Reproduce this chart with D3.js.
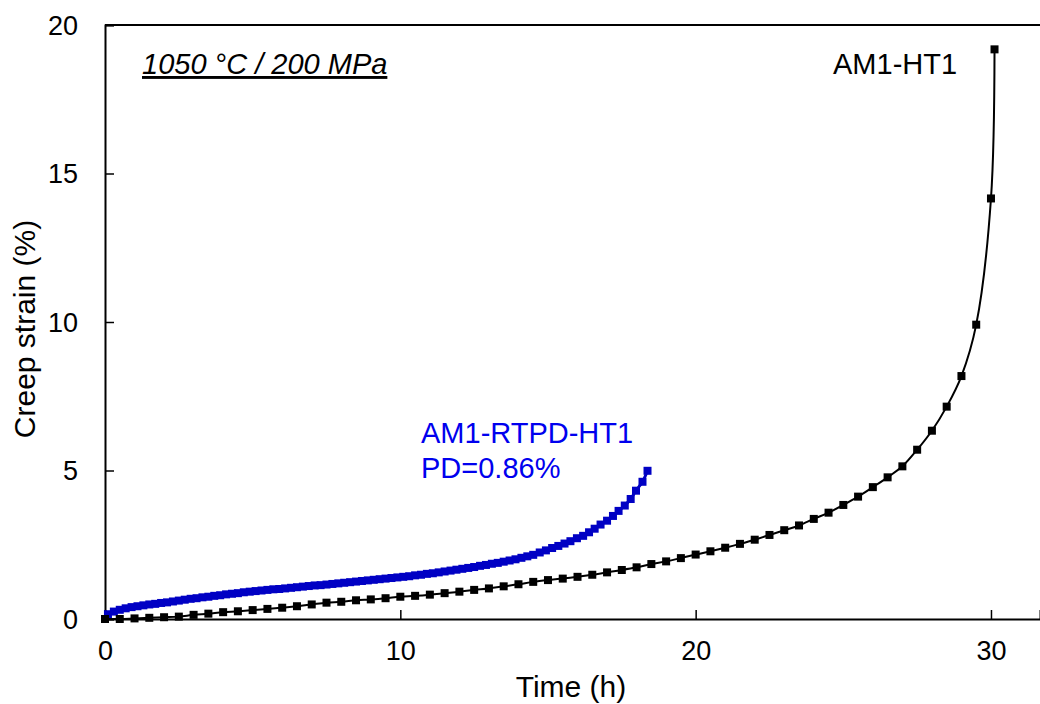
<!DOCTYPE html>
<html><head><meta charset="utf-8">
<script src="https://cdn.jsdelivr.net/npm/d3@7"></script>
<style>body{margin:0;background:#fff}svg{display:block}text{font-family:"Liberation Sans",Arial,sans-serif}</style>
</head><body><svg id="c" width="1040" height="704"></svg>
<script>
// AM1-HT1 (black)
const htTime = [0,0.5,1,1.5,2,2.5,3,3.5,4,4.5,5,5.5,6,6.5,7,7.5,8,8.5,9,9.5,10,10.5,11,11.5,12,12.5,13,13.5,14,14.5,15,15.5,16,16.5,17,17.5,18,18.5,19,19.5,20,20.5,21,21.5,22,22.5,23,23.5,24,24.5,25,25.5,26,26.5,27,27.5,28,28.5,29,29.5,30,30.12];
const htStrain = [0,0,0.02,0.04,0.06,0.08,0.14,0.18,0.23,0.26,0.30,0.34,0.38,0.43,0.49,0.55,0.58,0.63,0.66,0.70,0.75,0.78,0.82,0.87,0.92,0.98,1.03,1.10,1.17,1.25,1.31,1.36,1.42,1.49,1.57,1.65,1.74,1.85,1.94,2.05,2.17,2.28,2.40,2.53,2.67,2.83,2.99,3.15,3.37,3.58,3.84,4.12,4.44,4.77,5.14,5.70,6.34,7.15,8.18,9.91,14.16,19.18];
// AM1-RTPD-HT1 (blue)
const pdTime = [0,0.1,0.3,0.5,0.7,0.9,1.1,1.3,1.5,1.7,1.9,2.1,2.3,2.5,2.7,2.9,3.1,3.3,3.5,3.7,3.9,4.1,4.3,4.5,4.7,4.9,5.1,5.3,5.5,5.7,5.9,6.1,6.3,6.5,6.7,6.9,7.1,7.3,7.5,7.7,7.9,8.1,8.3,8.5,8.7,8.9,9.1,9.3,9.5,9.7,9.9,10.1,10.3,10.5,10.7,10.9,11.1,11.3,11.5,11.7,11.9,12.1,12.3,12.5,12.7,12.9,13.1,13.3,13.5,13.7,13.9,14.1,14.3,14.5,14.72,14.93,15.14,15.35,15.56,15.76,15.98,16.19,16.39,16.58,16.78,17.0,17.2,17.39,17.6,17.8,17.98,18.2,18.37];
const pdStrain = [0,0.16,0.25,0.31,0.36,0.40,0.43,0.46,0.49,0.51,0.54,0.56,0.59,0.62,0.65,0.68,0.70,0.73,0.75,0.78,0.80,0.83,0.85,0.87,0.90,0.92,0.94,0.96,0.98,1.00,1.01,1.03,1.05,1.07,1.09,1.11,1.13,1.14,1.16,1.18,1.20,1.22,1.24,1.26,1.28,1.30,1.32,1.34,1.36,1.38,1.40,1.42,1.44,1.47,1.49,1.52,1.54,1.57,1.60,1.63,1.66,1.69,1.72,1.75,1.79,1.82,1.86,1.89,1.93,1.97,2.01,2.06,2.11,2.16,2.24,2.31,2.39,2.46,2.54,2.62,2.72,2.80,2.92,3.04,3.18,3.31,3.47,3.64,3.82,4.04,4.32,4.62,4.99];
const xTicks = [0,10,20,30];
const yTicks = [0,5,10,15,20];
const labels = {title:"1050 °C / 200 MPa", ht:"AM1-HT1", pd1:"AM1-RTPD-HT1", pd2:"PD=0.86%", xAxis:"Time (h)", yAxis:"Creep strain (%)"};

const svg = d3.select("#c");
const x = d3.scaleLinear().domain([0,31.66]).range([105,1040]);
const y = d3.scaleLinear().domain([0,20]).range([619,25]);
const FS = 27, FA = 29, FT = 30;

// axes
const gx = svg.append("g").attr("transform","translate(0,619)")
  .call(d3.axisBottom(x).tickValues(xTicks).tickSize(-9).tickPadding(0).tickFormat(d3.format("d")));
gx.select(".domain").attr("stroke","#000").attr("stroke-width",2);
gx.selectAll(".tick line").attr("stroke","#000").attr("stroke-width",1.5);
gx.selectAll(".tick text").attr("font-size",FS).attr("fill","#000").attr("font-family","Liberation Sans, Arial, sans-serif").attr("dy",null).attr("y",41);

const gy = svg.append("g").attr("transform","translate(105,0)")
  .call(d3.axisLeft(y).tickValues(yTicks).tickSize(-9).tickPadding(0).tickFormat(d3.format("d")));
gy.select(".domain").attr("stroke","#000").attr("stroke-width",2);
gy.selectAll(".tick line").attr("stroke","#000").attr("stroke-width",1.5);
gy.selectAll(".tick text").attr("font-size",FS).attr("fill","#000").attr("font-family","Liberation Sans, Arial, sans-serif").attr("x",-27).attr("dy","0.35em");

// top border
svg.append("line").attr("x1",x(0)).attr("x2",x(31.66)).attr("y1",y(20)).attr("y2",y(20)).attr("stroke","#000").attr("stroke-width",2);

// axis titles
svg.append("text").attr("x",571).attr("y",697).attr("text-anchor","middle").attr("font-size",FT).text(labels.xAxis);
svg.append("text").attr("transform","translate(35,329) rotate(-90)").attr("text-anchor","middle").attr("font-size",FT).text(labels.yAxis);

// series
const ht = htTime.map((t,i)=>({t, v:htStrain[i]}));
const pd = pdTime.map((t,i)=>({t, v:pdStrain[i]}));
const line = d3.line().x(d=>x(d.t)).y(d=>y(d.v)).curve(d3.curveCatmullRom.alpha(0.5));

svg.append("path").datum(pd).attr("d",line).attr("fill","none").attr("stroke","#0000c4").attr("stroke-width",3);
svg.append("g").selectAll("rect").data(pd).join("rect")
  .attr("x",d=>x(d.t)-4).attr("y",d=>y(d.v)-4).attr("width",8).attr("height",8).attr("fill","#0000c4");

svg.append("path").datum(ht).attr("d",line).attr("fill","none").attr("stroke","#000").attr("stroke-width",2);
svg.append("g").selectAll("rect").data(ht).join("rect")
  .attr("x",d=>x(d.t)-4).attr("y",d=>y(d.v)-4).attr("width",8).attr("height",8).attr("fill","#000");

// annotations
svg.append("text").attr("x",142).attr("y",74).attr("font-size",FA).attr("font-style","italic").attr("text-decoration","underline").text(labels.title);
svg.append("text").attr("x",833).attr("y",74).attr("font-size",FA).text(labels.ht);
svg.append("text").attr("x",421).attr("y",443).attr("font-size",FA).attr("fill","#0000ee").text(labels.pd1);
svg.append("text").attr("x",421).attr("y",478).attr("font-size",FA).attr("fill","#0000ee").text(labels.pd2);
</script></body></html>
